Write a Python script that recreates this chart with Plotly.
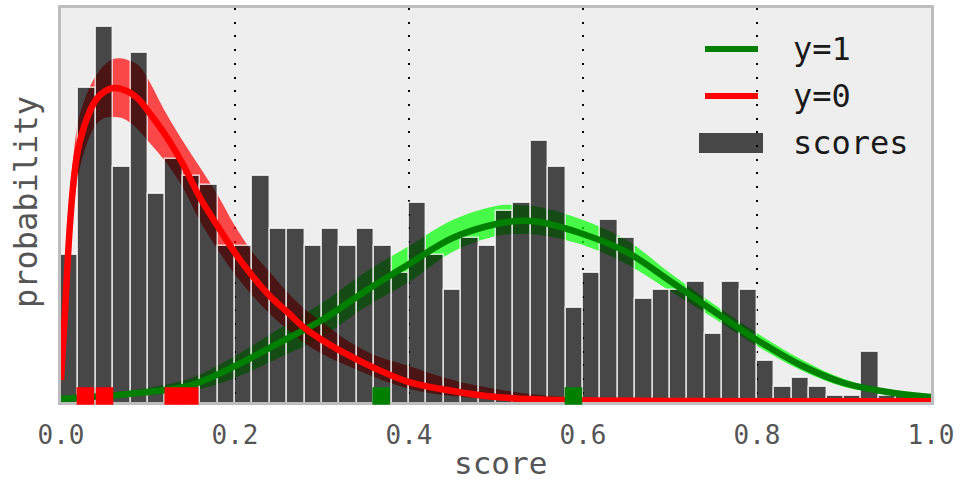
import plotly.graph_objects as go

# ---------------- data ----------------
bin_width = 0.02
bin_starts = [round(i * bin_width, 2) for i in range(50)]
score_counts = [17, 36, 43, 27, 40, 24, 28, 26, 25, 18,
                18, 26, 20, 20, 18, 20, 18, 20, 18, 15,
                23, 17, 13, 19, 18, 22, 23, 30, 27, 11,
                15, 21, 19, 12, 13, 13, 14, 8, 14, 13,
                5, 2, 3, 2, 1, 1, 6, 1, 1, 0]

red_x = [0, .005, .01, .015, .02, .03, .04, .05, .06, .07, .08, .09, .10, .12, .14, .16, .18,
         .20, .22, .24, .26, .28, .30, .33, .36, .40, .45, .50, .55, .60, .70, .80, 1.0]
red_mid = [2.79, 11.33, 20.10, 25.91, 29.21, 32.63, 34.68, 35.65, 36.05, 35.93, 35.48, 34.68, 33.43,
           30.70, 27.39, 23.52, 20.33, 17.26, 14.64, 12.36, 10.54, 8.71, 7.35, 5.64, 4.16, 2.56,
           1.54, 0.85, 0.57, 0.46, 0.40, 0.38, 0.36]
red_hi = [3.02, 13.04, 23.29, 28.99, 32.40, 35.48, 37.41, 38.67, 39.35, 39.41, 39.12, 38.55, 37.07,
          33.31, 30.01, 26.97, 23.86, 20.33, 17.37, 15.09, 12.81, 10.88, 9.40, 7.23, 5.64, 4.38,
          2.79, 1.77, 1.08, 0.74, 0.46, 0.40, 0.36]
red_lo = [2.68, 9.62, 17.03, 22.72, 26.14, 29.78, 31.83, 32.63, 32.74, 32.63, 32.06, 31.15, 30.01,
          27.68, 24.72, 20.84, 17.65, 14.81, 12.42, 10.31, 8.60, 7.00, 5.75, 4.38, 3.13, 1.77,
          0.97, 0.63, 0.46, 0.40, 0.36, 0.36, 0.36]

green_x = [0, .05, .10, .15, .20, .25, .30, .35, .40, .45, .50, .525, .55, .60, .65, .70, .75,
           .80, .85, .90, .95, 1.0]
green_mid = [0.63, 0.97, 1.42, 2.22, 4.38, 7.00, 9.62, 12.93, 16.00, 18.96, 20.56, 20.90, 20.79,
             19.42, 17.37, 14.07, 10.65, 7.35, 4.50, 2.45, 1.42, 0.85]
green_hi = [0.74, 1.20, 1.88, 3.02, 5.52, 8.60, 11.56, 15.09, 18.05, 21.01, 22.61, 22.72, 22.49,
            21.01, 18.74, 14.98, 11.45, 8.14, 5.18, 2.90, 1.65, 0.97]
green_lo = [0.51, 0.74, 1.08, 1.54, 3.02, 5.30, 7.69, 11.10, 13.95, 17.37, 19.19, 19.42, 19.31,
            18.17, 16.00, 12.93, 9.85, 6.65, 3.93, 1.99, 1.20, 0.74]

red_rug = [0.028, 0.050, 0.129, 0.148]
green_rug = [0.368, 0.589]

tick_vals = [0.0, 0.2, 0.4, 0.6, 0.8, 1.0]
tick_labels = ["0.0", "0.2", "0.4", "0.6", "0.8", "1.0"]
legend_labels = ["y=1", "y=0", "scores"]
x_title = "score"
y_title = "probability"

# ---------------- style ----------------
FONT = "DejaVu Sans Mono"
Y_RANGE = [0.285, 45.16]
X_RANGE = [0, 1]
RUG_Y = 0.97

fig = go.Figure()

# bands (base axes, below the bars)
fig.add_trace(go.Scatter(x=green_x + green_x[::-1], y=green_hi + green_lo[::-1],
                         fill="toself", fillcolor="rgba(0,255,0,0.7)", mode="lines",
                         line=dict(width=0, shape="spline"), hoverinfo="skip",
                         showlegend=False, xaxis="x", yaxis="y"))
fig.add_trace(go.Scatter(x=red_x + red_x[::-1], y=red_hi + red_lo[::-1],
                         fill="toself", fillcolor="rgba(255,0,0,0.7)", mode="lines",
                         line=dict(width=0, shape="spline"), hoverinfo="skip",
                         showlegend=False, xaxis="x", yaxis="y"))

# histogram (overlay axes)
fig.add_trace(go.Bar(x=[s + bin_width / 2 for s in bin_starts], y=score_counts,
                     width=bin_width, marker=dict(color="rgba(0,0,0,0.7)",
                     line=dict(color="rgba(255,255,255,0.75)", width=1.5)),
                     showlegend=False, xaxis="x2", yaxis="y2"))

# mean curves
fig.add_trace(go.Scatter(x=green_x, y=green_mid, mode="lines",
                         line=dict(color="#008000", width=6.5, shape="spline"),
                         showlegend=False, xaxis="x2", yaxis="y2"))
fig.add_trace(go.Scatter(x=red_x, y=red_mid, mode="lines",
                         line=dict(color="#ff0000", width=6.5, shape="spline"),
                         showlegend=False, xaxis="x2", yaxis="y2"))

# rug marks
fig.add_trace(go.Scatter(x=red_rug, y=[RUG_Y] * len(red_rug), mode="markers",
                         marker=dict(symbol="square", size=17.5, color="#ff0000",
                                     line=dict(width=0)),
                         cliponaxis=False, showlegend=False, xaxis="x2", yaxis="y2"))
fig.add_trace(go.Scatter(x=green_rug, y=[RUG_Y] * len(green_rug), mode="markers",
                         marker=dict(symbol="square", size=17.5, color="#008000",
                                     line=dict(width=0)),
                         cliponaxis=False, showlegend=False, xaxis="x2", yaxis="y2"))

# custom legend + axis titles
L = 61; R = 931; T = 8; B = 402
def px(xp): return (xp - L) / (R - L)
def py(yp): return (B - yp) / (B - T)

shapes = [
    dict(type="line", xref="paper", yref="paper", x0=px(705), x1=px(758), y0=py(49), y1=py(49),
         line=dict(color="#008000", width=6)),
    dict(type="line", xref="paper", yref="paper", x0=px(705), x1=px(758), y0=py(96), y1=py(96),
         line=dict(color="#ff0000", width=6)),
    dict(type="rect", xref="paper", yref="paper", x0=px(699), x1=px(763), y0=py(153), y1=py(133),
         fillcolor="rgba(0,0,0,0.7)", line=dict(width=0)),
]
annotations = []
for lbl, yc in zip(legend_labels, [49, 96, 143]):
    annotations.append(dict(text=lbl, xref="paper", yref="paper", x=px(791), y=py(yc),
                            xanchor="left", yanchor="middle", showarrow=False,
                            font=dict(family=FONT, size=32, color="#1a1a1a")))
annotations.append(dict(text=x_title, xref="paper", yref="paper", x=px(500), y=py(463),
                        xanchor="center", yanchor="middle", showarrow=False,
                        font=dict(family=FONT, size=31, color="#555555")))
annotations.append(dict(text=y_title, xref="paper", yref="paper", x=px(26), y=py(202),
                        xanchor="center", yanchor="middle", showarrow=False, textangle=-90,
                        font=dict(family=FONT, size=32, color="#555555")))

fig.update_layout(
    width=963, height=484,
    margin=dict(l=L, r=963 - R, t=T, b=484 - B, autoexpand=False),
    paper_bgcolor="white", plot_bgcolor="#eeeeee",
    shapes=shapes, annotations=annotations,
    barmode="overlay", bargap=0,
    xaxis=dict(range=X_RANGE, tickvals=tick_vals, ticktext=tick_labels, ticks="",
               showgrid=True, gridcolor="black", gridwidth=2, griddash="2px,11.7px",
               zeroline=False, showline=True, mirror=True, linecolor="#bdbdbd", linewidth=3,
               layer="below traces", ticklabelstandoff=8, automargin=False,
               tickfont=dict(family=FONT, size=26, color="#555555")),
    yaxis=dict(range=Y_RANGE, showgrid=False, zeroline=False, showticklabels=False, ticks="",
               showline=True, mirror=True, linecolor="#bdbdbd", linewidth=3,
               layer="below traces", automargin=False),
    xaxis2=dict(range=X_RANGE, overlaying="x", anchor="y2", visible=False),
    yaxis2=dict(range=Y_RANGE, overlaying="y", anchor="x2", visible=False),
)

fig.write_html("out.html", config={"displayModeBar": False},
               post_script="document.body.style.margin='0';document.body.style.overflow='hidden';")
